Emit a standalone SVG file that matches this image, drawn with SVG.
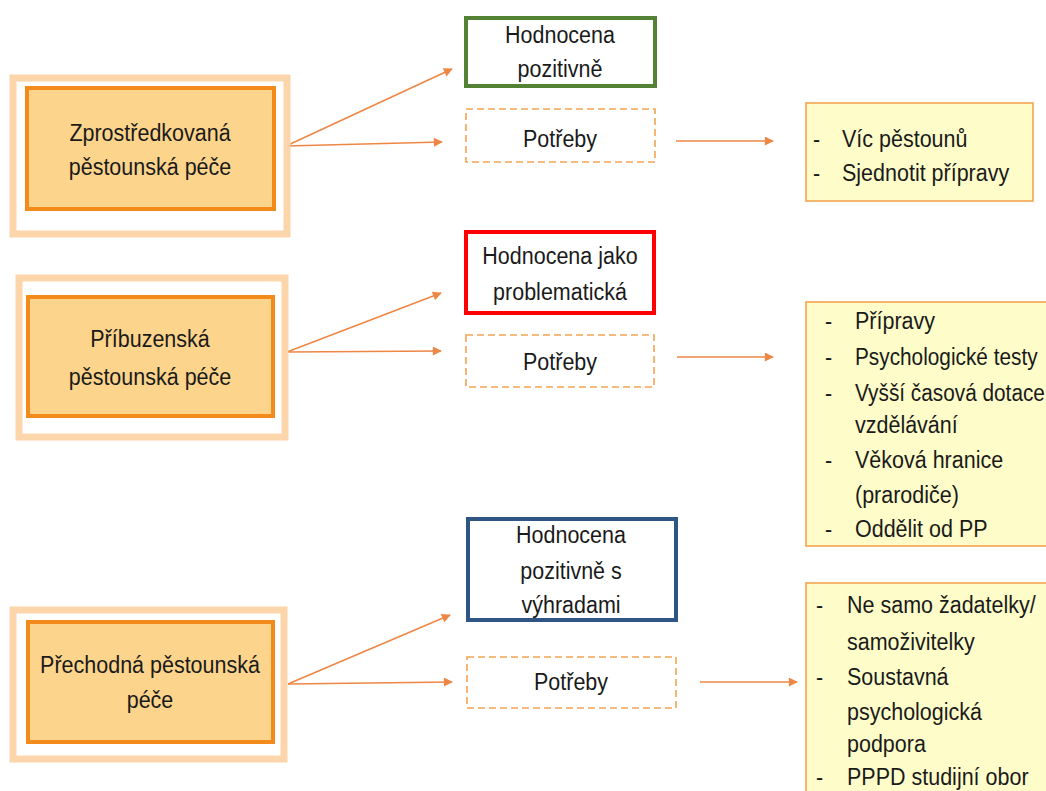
<svg xmlns="http://www.w3.org/2000/svg" width="1046" height="791" viewBox="0 0 1046 791">
  <defs>
    <style>
      text { font-family: "Liberation Sans", Arial, sans-serif; font-size: 21.5px; fill: #1a1a1a; }
      .c { text-anchor: middle; }
      .tight { font-size: 20.8px; }
      .halo { fill: #ffffff; stroke: #fdd5aa; stroke-width: 7; }
      .care { fill: #fdd48b; stroke: #f28a1c; stroke-width: 4; }
      .eval { fill: #ffffff; stroke-width: 4; }
      .need { fill: #ffffff; stroke: #f4a451; stroke-width: 1.6; stroke-dasharray: 7 4; }
      .list { fill: #fefdc9; stroke: #f4a451; stroke-width: 1.6; }
      .link { stroke: #ee8646; stroke-width: 1.6; fill: none; marker-end: url(#tip); }
    </style>
    <marker id="tip" viewBox="0 0 10 10" refX="9" refY="5" markerWidth="10" markerHeight="9" markerUnits="userSpaceOnUse" orient="auto">
      <path d="M0,0 L10,5 L0,10 z" fill="#ee8646"/>
    </marker>
  </defs>

  <rect width="1046" height="791" fill="#ffffff"/>

  <!-- connectors -->
  <g id="connectors">
    <line class="link" x1="286" y1="146" x2="452" y2="69"/>
    <line class="link" x1="286" y1="146" x2="442" y2="142"/>
    <line class="link" x1="676" y1="141" x2="773" y2="141"/>

    <line class="link" x1="287" y1="352" x2="441" y2="293"/>
    <line class="link" x1="287" y1="352" x2="441" y2="351"/>
    <line class="link" x1="677" y1="357" x2="773" y2="357"/>

    <line class="link" x1="288" y1="684" x2="450" y2="615"/>
    <line class="link" x1="288" y1="684" x2="452" y2="682"/>
    <line class="link" x1="700" y1="682" x2="797" y2="682"/>
  </g>

  <!-- row 1 -->
  <g id="zprostredkovana">
    <rect class="halo" x="13" y="78" width="274" height="156"/>
    <rect class="care" x="27" y="88" width="247" height="121"/>
    <text class="c" transform="translate(150 141) scale(1 1.15)">Zprostředkovaná</text>
    <text class="c" transform="translate(150 175) scale(1 1.15)">pěstounská péče</text>
  </g>
  <g id="eval-1">
    <rect class="eval" x="466" y="18" width="189" height="68" stroke="#548235"/>
    <text class="c" transform="translate(560 43) scale(1 1.15)">Hodnocena</text>
    <text class="c" transform="translate(560 77) scale(1 1.15)">pozitivně</text>
  </g>
  <g id="needs-1">
    <rect class="need" x="466" y="109" width="189" height="53"/>
    <text class="c" transform="translate(560 147) scale(1 1.15)">Potřeby</text>
  </g>
  <g id="list-1">
    <rect class="list" x="806" y="103" width="227" height="98"/>
    <text transform="translate(813 147) scale(1 1.15)">-</text>
    <text transform="translate(842 147) scale(1 1.15)">Víc pěstounů</text>
    <text transform="translate(813 181) scale(1 1.15)">-</text>
    <text transform="translate(842 181) scale(1 1.15)">Sjednotit přípravy</text>
  </g>

  <!-- row 2 -->
  <g id="pribuzenska">
    <rect class="halo" x="19" y="278" width="266" height="159"/>
    <rect class="care" x="28" y="297" width="245" height="119"/>
    <text class="c" transform="translate(150 347) scale(1 1.15)">Příbuzenská</text>
    <text class="c" transform="translate(150 385) scale(1 1.15)">pěstounská péče</text>
  </g>
  <g id="eval-2">
    <rect class="eval" x="466" y="232" width="188" height="81" stroke="#fe0000"/>
    <text class="c" transform="translate(560 264) scale(1 1.15)">Hodnocena jako</text>
    <text class="c" transform="translate(560 300) scale(1 1.15)">problematická</text>
  </g>
  <g id="needs-2">
    <rect class="need" x="466" y="335" width="188" height="52"/>
    <text class="c" transform="translate(560 370) scale(1 1.15)">Potřeby</text>
  </g>
  <g id="list-2">
    <rect class="list" x="806" y="302" width="250" height="244"/>
    <text transform="translate(825 329) scale(1 1.15)">-</text>
    <text transform="translate(855 329) scale(1 1.15)">Přípravy</text>
    <text transform="translate(825 365) scale(1 1.15)">-</text>
    <text class="tight" transform="translate(855 365) scale(1 1.15)">Psychologické testy</text>
    <text transform="translate(825 401) scale(1 1.15)">-</text>
    <text class="tight" transform="translate(855 401) scale(1 1.15)">Vyšší časová dotace</text>
    <text transform="translate(855 433) scale(1 1.15)">vzdělávání</text>
    <text transform="translate(825 468) scale(1 1.15)">-</text>
    <text transform="translate(855 468) scale(1 1.15)">Věková hranice</text>
    <text transform="translate(855 503) scale(1 1.15)">(prarodiče)</text>
    <text transform="translate(825 537) scale(1 1.15)">-</text>
    <text transform="translate(855 537) scale(1 1.15)">Oddělit od PP</text>
  </g>

  <!-- row 3 -->
  <g id="prechodna">
    <rect class="halo" x="13" y="610" width="271" height="149"/>
    <rect class="care" x="28" y="622" width="245" height="120"/>
    <text class="c" transform="translate(150 673) scale(1 1.15)">Přechodná pěstounská</text>
    <text class="c" transform="translate(150 708) scale(1 1.15)">péče</text>
  </g>
  <g id="eval-3">
    <rect class="eval" x="468" y="519" width="208" height="101" stroke="#2e5583"/>
    <text class="c" transform="translate(571 543) scale(1 1.15)">Hodnocena</text>
    <text class="c" transform="translate(571 579) scale(1 1.15)">pozitivně s</text>
    <text class="c" transform="translate(571 613) scale(1 1.15)">výhradami</text>
  </g>
  <g id="needs-3">
    <rect class="need" x="467" y="657" width="209" height="51"/>
    <text class="c" transform="translate(571 690) scale(1 1.15)">Potřeby</text>
  </g>
  <g id="list-3">
    <rect class="list" x="806" y="583" width="250" height="220"/>
    <text transform="translate(816 613) scale(1 1.15)">-</text>
    <text transform="translate(847 613) scale(1 1.15)">Ne samo žadatelky/</text>
    <text transform="translate(847 650) scale(1 1.15)">samoživitelky</text>
    <text transform="translate(816 685) scale(1 1.15)">-</text>
    <text transform="translate(847 685) scale(1 1.15)">Soustavná</text>
    <text transform="translate(847 720) scale(1 1.15)">psychologická</text>
    <text transform="translate(847 752) scale(1 1.15)">podpora</text>
    <text transform="translate(816 785) scale(1 1.15)">-</text>
    <text transform="translate(847 785) scale(1 1.15)">PPPD studijní obor</text>
  </g>
</svg>
